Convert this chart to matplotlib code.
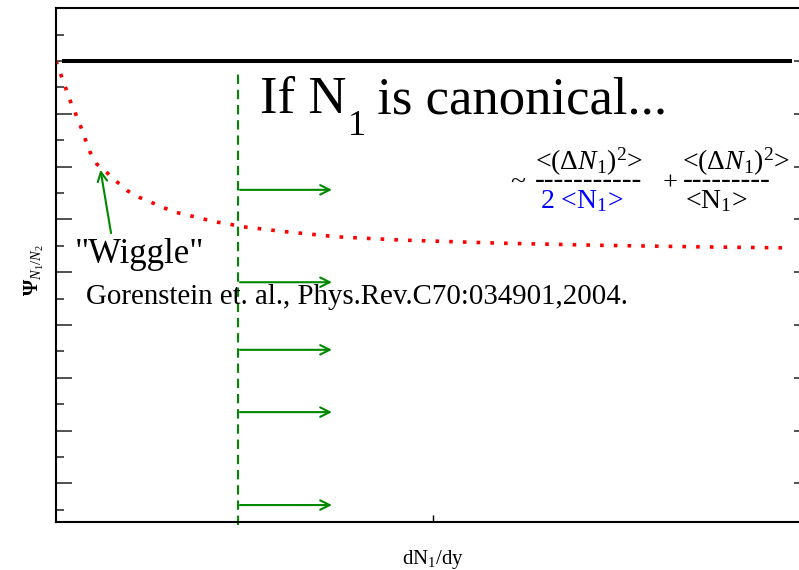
import matplotlib
matplotlib.use("Agg")
import matplotlib.pyplot as plt
from matplotlib.ticker import MultipleLocator, FixedLocator

plt.rcParams["font.family"] = "Liberation Serif"
plt.rcParams["mathtext.fontset"] = "custom"
plt.rcParams["mathtext.rm"] = "Liberation Serif"
plt.rcParams["mathtext.it"] = "Liberation Serif:italic"
plt.rcParams["mathtext.bf"] = "Liberation Serif:bold"

# Psi(N1/N2) vs dN1/dy -- schematic curve (red dots)
curve_x = [0.000, 0.007, 0.013, 0.019, 0.026, 0.033, 0.039, 0.045, 0.054, 0.068,
           0.081, 0.095, 0.110, 0.127, 0.143, 0.160, 0.178, 0.195, 0.213, 0.230,
           0.248, 0.267, 0.284, 0.302, 0.338, 0.373, 0.456, 0.589, 0.721, 0.854,
           0.975]
curve_y = [8.00, 7.72, 7.48, 7.24, 7.00, 6.75, 6.51, 6.28, 6.05, 5.88,
           5.71, 5.54, 5.42, 5.32, 5.22, 5.13, 5.07, 5.01, 4.95, 4.91,
           4.86, 4.83, 4.80, 4.77, 4.72, 4.67, 4.61, 4.55, 4.51, 4.48,
           4.46]

# canonical limit (black line)
flat_x = [0.008, 0.976]
flat_y = [8.0, 8.0]

# acceptance cut (green dashed) and arrows
cut_x = 0.241
cut_y = [-0.79, 7.83]
arrow_x = [0.244, 0.366]
arrow_y = [5.56, 3.81, 2.53, 1.35, -0.41]

# "Wiggle" pointer: tail -> head
wiggle_tail = (0.073, 4.74)
wiggle_head = (0.059, 5.94)

GREEN = "#008800"

fig = plt.figure(figsize=(7.99, 5.70), dpi=100)
ax = fig.add_axes([56 / 799, 48 / 570, 754 / 799, 514 / 570])

ax.plot(curve_x, curve_y, color="red", lw=2.6, linestyle=(0, (1, 2.8)))
ax.plot(flat_x, flat_y, color="black", lw=2.9, solid_capstyle="butt")
ax.plot([cut_x, cut_x], cut_y, color=GREEN, lw=1.5, linestyle=(0, (4.5, 2.8)),
        clip_on=False)
for y in arrow_y:
    ax.annotate("", xy=(arrow_x[1], y), xytext=(arrow_x[0], y),
                arrowprops=dict(arrowstyle="->", color=GREEN, lw=1.5,
                                mutation_scale=17, shrinkA=0, shrinkB=0),
                annotation_clip=False)
ax.annotate("", xy=wiggle_head, xytext=wiggle_tail,
            arrowprops=dict(arrowstyle="->", color=GREEN, lw=1.5,
                            mutation_scale=17, shrinkA=0, shrinkB=0))

ax.set_xlim(0, 1)
ax.set_ylim(-0.731, 9.004)

ax.xaxis.set_major_locator(FixedLocator([0.5]))
ax.yaxis.set_major_locator(MultipleLocator(1))
ax.yaxis.set_minor_locator(MultipleLocator(0.5))
ax.tick_params(axis="x", direction="in", length=5, width=1, top=False,
               labelbottom=False)
ax.tick_params(axis="y", which="major", direction="in", length=11.5, width=1.2,
               color="#333333", right=True, labelleft=False)
ax.tick_params(axis="y", which="minor", direction="in", length=6, width=1.2,
               color="#333333", right=True)
for s in ax.spines.values():
    s.set_linewidth(1.5)

ax.set_xlabel(r"dN$_1$/dy", fontsize=15)
ax.xaxis.set_label_coords(0.5, -0.051)
ax.set_ylabel(r"$\mathbf{\Psi}_{N_1/N_2}$", fontsize=15)
ax.yaxis.set_label_coords(-0.013, 0.49)

# big statement
t1 = ax.text(0.2706, 7.015, "If N", fontsize=38, va="baseline")
t2 = ax.annotate("1", xy=(1.0, 6.598), xycoords=(t1, "data"),
                 xytext=(1, 0), textcoords="offset points",
                 fontsize=26, va="baseline")
ax.annotate(" is canonical...", xy=(1.0, 7.015), xycoords=(t2, "data"),
            xytext=(-1.5, 0), textcoords="offset points",
            fontsize=38, va="baseline")

ax.text(0.0252, 4.174, '"Wiggle"', fontsize=25, va="baseline")
ax.text(0.0398, 3.398, "Gorenstein et. al., Phys.Rev.C70:034901,2004.",
        fontsize=20.8, va="baseline")

# fluctuation formula
num = r"<($\Delta N_{\mathit{1}})^{2}$>"
ax.text(0.602, 5.566, "~", fontsize=20, va="baseline")
ax.text(0.635, 5.936, num, fontsize=20, va="baseline")
ax.text(0.635, 5.604, "-" * 11, fontsize=21, va="baseline")
ax.text(0.642, 5.216, r"2 <N$_1$>", fontsize=20, va="baseline", color="blue")
ax.text(0.805, 5.557, "+", fontsize=19, va="baseline")
ax.text(0.830, 5.936, num, fontsize=20, va="baseline")
ax.text(0.832, 5.604, "-" * 9, fontsize=21, va="baseline")
ax.text(0.834, 5.216, r"<N$_1$>", fontsize=20, va="baseline")

fig.savefig("out.png", dpi=100)
